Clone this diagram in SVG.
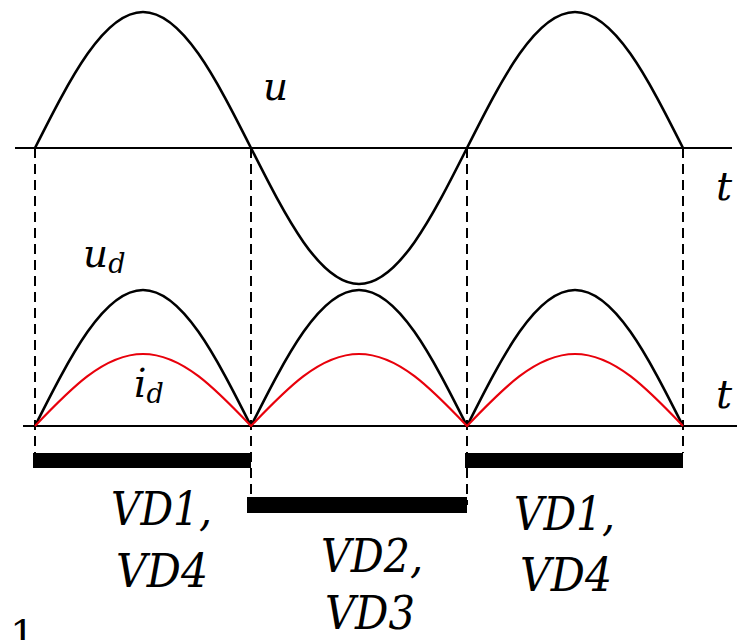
<svg xmlns="http://www.w3.org/2000/svg" width="737" height="640" viewBox="0 0 737 640">
<style>
.axis{stroke:#000;stroke-width:2;fill:none}
.curve{stroke:#000;stroke-width:2.6;fill:none}
.red{stroke:#e8000b;stroke-width:2.2;fill:none}
.dash{stroke:#000;stroke-width:2;stroke-dasharray:10,6;fill:none}
.bar{fill:#000}
text{font-family:"DejaVu Serif",serif;fill:#000}
.lbl{font-style:italic}
.vd{font-style:italic;font-size:46px}
</style>
<rect width="737" height="640" fill="#fff"/>
<g id="axes">
<line class="axis" x1="15" y1="148" x2="732" y2="148"/>
<line class="axis" x1="23" y1="426" x2="737" y2="426"/>
<line class="axis" x1="251" y1="426" x2="467" y2="426" stroke-width="3"/>
</g>
<g id="dashes">
<line class="dash" x1="35" y1="148" x2="35" y2="453"/>
<line class="dash" x1="251" y1="148" x2="251" y2="505"/>
<line class="dash" x1="467" y1="148" x2="467" y2="505"/>
<line class="dash" x1="683" y1="148" x2="683" y2="453"/>
</g>
<g id="u-wave">
<path class="curve" d="M35,148 C70.2,78.3 103.9,12 143,12 C182.1,12 215.8,78.3 251,148 C286.2,217.7 319.9,284 359,284 C398.1,284 431.8,217.7 467,148 C502.2,78.3 535.9,12 575,12 C614.1,12 647.8,78.3 683,148"/>
</g>
<g id="ud-wave">
<path class="curve" d="M35,426 C70.2,356.3 103.9,290 143,290 C182.1,290 215.8,356.3 251,426 C286.2,356.3 319.9,290 359,290 C398.1,290 431.8,356.3 467,426 C502.2,356.3 535.9,290 575,290 C614.1,290 647.8,356.3 683,426"/>
</g>
<g id="id-wave">
<path class="red" d="M35,426 C70.2,389.1 103.9,354 143,354 C182.1,354 215.8,389.1 251,426 C286.2,389.1 319.9,354 359,354 C398.1,354 431.8,389.1 467,426 C502.2,389.1 535.9,354 575,354 C614.1,354 647.8,389.1 683,426"/>
</g>
<g id="bars">
<rect class="bar" x="33" y="453" width="218" height="15"/>
<rect class="bar" x="247" y="497" width="220" height="16"/>
<rect class="bar" x="465" y="453" width="218" height="15"/>
</g>
<g id="labels">
<text class="lbl" x="263" y="100" font-size="39">u</text>
<text class="lbl" x="716" y="200" font-size="40">t</text>
<text class="lbl" x="716" y="408" font-size="40">t</text>
<text class="lbl" x="83" y="267" font-size="39">u<tspan font-size="27" dy="6">d</tspan></text>
<text class="lbl" x="134" y="397" font-size="39">i<tspan font-size="27" dy="6">d</tspan></text>
<text class="vd" x="111" y="525" textLength="101" lengthAdjust="spacingAndGlyphs">VD1,</text>
<text class="vd" x="116" y="587" textLength="92" lengthAdjust="spacingAndGlyphs">VD4</text>
<text class="vd" x="321" y="572" textLength="102" lengthAdjust="spacingAndGlyphs">VD2,</text>
<text class="vd" x="325" y="629" textLength="90" lengthAdjust="spacingAndGlyphs">VD3</text>
<text class="vd" x="514" y="530" textLength="101" lengthAdjust="spacingAndGlyphs">VD1,</text>
<text class="vd" x="520" y="591" textLength="92" lengthAdjust="spacingAndGlyphs">VD4</text>
<text x="10" y="648" font-size="40">1</text>
</g>
</svg>
